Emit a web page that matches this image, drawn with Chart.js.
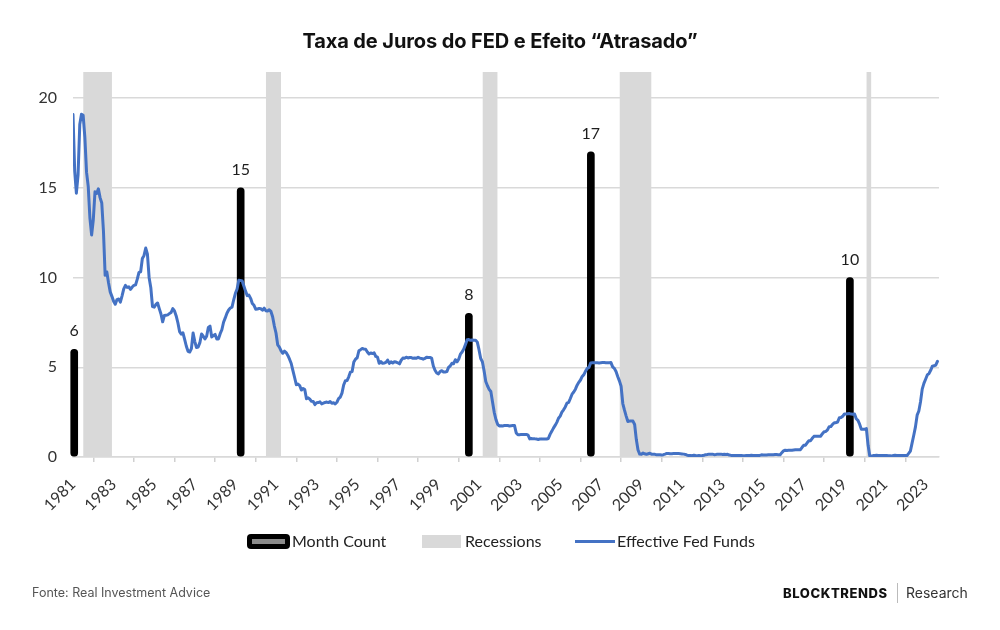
<!DOCTYPE html>
<html>
<head>
<meta charset="utf-8">
<script src="https://cdn.jsdelivr.net/npm/chart.js@4.4.1/dist/chart.umd.min.js"></script>
<style>
  html, body { margin:0; padding:0; background:#fff; }
  #wrap { position:relative; width:1000px; height:630px; overflow:hidden; background:#fff; }
  #c { position:absolute; left:0; top:0; }
  #title { position:absolute; left:0; top:29px; width:1000px; text-align:center; font-family:Inter, sans-serif; font-weight:700; font-size:20px; line-height:24px; color:#111; letter-spacing:-0.1px; }
  .leg { position:absolute; font-family:Lato, sans-serif; font-size:16px; color:#222; line-height:20px; top:531px; }
  .ico { position:absolute; }
  #src { position:absolute; left:32px; top:585px; font-family:Inter, sans-serif; font-size:12.5px; color:#555; line-height:16px; }
  #brand { position:absolute; left:783px; top:585px; font-family:Inter, sans-serif; font-size:13px; font-weight:800; color:#111; line-height:16px; letter-spacing:0.6px; }
  #sep { position:absolute; left:897px; top:583px; width:1px; height:20px; background:#bbb; }
  #research { position:absolute; left:906px; top:584px; font-family:Inter, sans-serif; font-size:14px; color:#333; line-height:18px; }
</style>
</head>
<body>
<div id="wrap">
  <canvas id="c" width="1000" height="630"></canvas>
  <div id="title">Taxa de Juros do FED e Efeito “Atrasado”</div>
  <div class="ico" style="left:247px;top:534px;width:43px;height:15px;background:#000;border-radius:4px;"></div>
  <div class="ico" style="left:252px;top:539px;width:33px;height:5px;background:#8a8a8a;"></div>
  <div class="leg" style="left:292px;">Month Count</div>
  <div class="ico" style="left:422px;top:535px;width:39px;height:13px;background:#d9d9d9;"></div>
  <div class="leg" style="left:465px;">Recessions</div>
  <div class="ico" style="left:575px;top:540px;width:40px;height:3px;background:#4472c4;"></div>
  <div class="leg" style="left:617px;">Effective Fed Funds</div>
  <div id="src">Fonte: Real Investment Advice</div>
  <div id="brand">BLOCKTRENDS</div>
  <div id="sep"></div>
  <div id="research">Research</div>
</div>
<script>
// ---- data ----
const fedStartYear = 1981; // monthly series starting Jan 1981
const fedFunds = [
  19.08,15.93,14.70,15.72,18.52,19.10,19.04,17.82,15.87,15.08,13.31,12.37,
  13.22,14.78,14.68,14.94,14.45,14.15,12.59,10.12,10.31,9.71,9.20,8.95,
  8.68,8.51,8.77,8.80,8.63,8.98,9.37,9.56,9.45,9.48,9.34,9.47,
  9.56,9.59,9.91,10.29,10.32,11.06,11.23,11.64,11.30,9.99,9.43,8.38,
  8.35,8.50,8.58,8.27,7.97,7.53,7.88,7.90,7.92,7.99,8.05,8.27,
  8.14,7.86,7.48,6.99,6.85,6.92,6.56,6.17,5.89,5.85,6.04,6.91,
  6.43,6.10,6.13,6.37,6.85,6.73,6.58,6.73,7.22,7.29,6.69,6.77,
  6.83,6.58,6.58,6.87,7.09,7.51,7.75,8.01,8.19,8.30,8.35,8.76,
  9.12,9.36,9.85,9.84,9.81,9.53,9.24,8.99,9.02,8.84,8.55,8.45,
  8.23,8.24,8.28,8.26,8.18,8.29,8.15,8.13,8.20,8.11,7.81,7.31,
  6.91,6.25,6.12,5.91,5.78,5.90,5.82,5.66,5.45,5.21,4.81,4.43,
  4.03,4.06,3.98,3.73,3.82,3.76,3.25,3.30,3.22,3.10,3.09,2.92,
  3.02,3.03,3.07,2.96,3.00,3.04,3.06,3.03,3.09,2.99,3.02,2.96,
  3.05,3.25,3.34,3.56,4.01,4.25,4.26,4.47,4.73,4.76,5.29,5.45,
  5.53,5.92,5.98,6.05,6.01,6.00,5.85,5.74,5.80,5.76,5.80,5.60,
  5.56,5.22,5.31,5.22,5.24,5.27,5.40,5.22,5.30,5.24,5.31,5.29,
  5.25,5.19,5.39,5.51,5.50,5.56,5.52,5.54,5.54,5.50,5.52,5.50,
  5.56,5.51,5.49,5.45,5.49,5.56,5.54,5.55,5.51,5.07,4.83,4.68,
  4.63,4.76,4.81,4.74,4.74,4.76,4.99,5.07,5.22,5.20,5.42,5.30,
  5.45,5.73,5.85,6.02,6.27,6.53,6.54,6.50,6.52,6.51,6.51,6.40,
  5.98,5.49,5.31,4.80,4.21,3.97,3.77,3.65,3.07,2.49,2.09,1.82,
  1.73,1.74,1.73,1.75,1.75,1.75,1.73,1.74,1.75,1.75,1.34,1.24,
  1.24,1.26,1.25,1.26,1.26,1.22,1.01,1.03,1.01,1.01,1.00,0.98,
  1.00,1.01,1.00,1.00,1.00,1.03,1.26,1.43,1.61,1.76,1.93,2.16,
  2.28,2.50,2.63,2.79,3.00,3.04,3.26,3.50,3.62,3.78,4.00,4.16,
  4.29,4.49,4.59,4.79,4.94,4.99,5.24,5.25,5.25,5.25,5.25,5.24,
  5.25,5.26,5.26,5.25,5.25,5.25,5.26,5.02,4.94,4.76,4.49,4.24,
  3.94,2.98,2.61,2.28,1.98,2.00,2.01,2.00,1.81,0.97,0.39,0.16,
  0.15,0.22,0.18,0.15,0.18,0.21,0.16,0.16,0.15,0.12,0.12,0.12,
  0.11,0.13,0.16,0.20,0.20,0.18,0.18,0.19,0.19,0.19,0.19,0.18,
  0.17,0.16,0.14,0.10,0.09,0.09,0.07,0.10,0.08,0.07,0.08,0.07,
  0.08,0.10,0.13,0.14,0.16,0.16,0.16,0.13,0.14,0.16,0.16,0.16,
  0.14,0.15,0.14,0.15,0.11,0.09,0.09,0.08,0.08,0.09,0.08,0.09,
  0.07,0.07,0.08,0.09,0.09,0.10,0.09,0.09,0.09,0.09,0.09,0.12,
  0.11,0.11,0.11,0.12,0.12,0.13,0.13,0.14,0.14,0.12,0.12,0.24,
  0.34,0.38,0.36,0.37,0.37,0.38,0.39,0.40,0.40,0.40,0.41,0.54,
  0.65,0.66,0.79,0.90,0.91,1.04,1.15,1.16,1.15,1.15,1.16,1.30,
  1.41,1.42,1.51,1.69,1.70,1.82,1.91,1.91,1.95,2.19,2.20,2.27,
  2.40,2.40,2.41,2.42,2.39,2.38,2.40,2.13,2.04,1.83,1.55,1.55,
  1.55,1.58,0.65,0.05,0.05,0.08,0.09,0.10,0.09,0.09,0.09,0.09,
  0.09,0.08,0.07,0.07,0.06,0.08,0.10,0.09,0.08,0.08,0.08,0.08,
  0.08,0.08,0.20,0.33,0.77,1.21,1.68,2.33,2.56,3.08,3.78,4.10,
  4.33,4.57,4.65,4.83,5.06,5.08,5.12,5.33
];
// Month count bars (position in decimal years, value in months)
const monthCountAt = [1981.06, 1989.26, 2000.50, 2006.51, 2019.27];
const monthCount   = [6, 15, 8, 17, 10];
// Recessions (start / end in decimal years)
const recessionStart = [1981.50, 1990.50, 2001.17, 2007.92, 2020.08];
const recessionEnd   = [1982.92, 1991.25, 2001.92, 2009.50, 2020.33];
// Axis
const xTickYears = [1981,1983,1985,1987,1989,1991,1993,1995,1997,1999,2001,2003,2005,2007,2009,2011,2013,2015,2017,2019,2021,2023];
const yTickValues = [0, 5, 10, 15, 20];
const xMin = 1981, xMax = 2023.66, yMin = 0, yMax = 21.45;

// ---- build datasets ----
const fedPoints = fedFunds.map((v, i) => ({ x: fedStartYear + i / 12, y: v }));
const barPoints = monthCountAt.map((x, i) => ({ x: x, y: monthCount[i] }));
const recessionPoints = [];
recessionStart.forEach((s, i) => {
  recessionPoints.push({ x: s, y: yMax });
  recessionPoints.push({ x: recessionEnd[i], y: yMax });
  recessionPoints.push({ x: recessionEnd[i], y: null });
});

const barLabelPlugin = {
  id: 'barLabels',
  afterDatasetsDraw(chart) {
    const meta = chart.getDatasetMeta(1);
    const ctx = chart.ctx;
    ctx.save();
    ctx.font = '16px Lato';
    ctx.fillStyle = '#1e1e1e';
    ctx.textAlign = 'center';
    ctx.textBaseline = 'alphabetic';
    meta.data.forEach((el, i) => {
      ctx.fillText(String(monthCount[i]), el.x, el.y - 13);
    });
    ctx.restore();
  }
};

function draw() {
  Chart.defaults.font.family = 'Lato';
  Chart.defaults.font.size = 16;
  Chart.defaults.color = '#333';
  new Chart(document.getElementById('c'), {
    type: 'line',
    data: {
      datasets: [
        {
          type: 'line', label: 'Effective Fed Funds', data: fedPoints,
          borderColor: '#4472c4', borderWidth: 3, pointRadius: 0, tension: 0,
          fill: false, order: 1, borderJoinStyle: 'round', borderCapStyle: 'round'
        },
        {
          type: 'bar', label: 'Month Count', data: barPoints,
          backgroundColor: '#000', barThickness: 7, borderRadius: 3.5,
          borderSkipped: false, order: 2, clip: 6
        },
        {
          type: 'line', label: 'Recessions', data: recessionPoints,
          borderColor: 'rgba(0,0,0,0)', borderWidth: 0, pointRadius: 0,
          backgroundColor: '#d9d9d9', fill: 'origin', spanGaps: false, order: 3, tension: 0
        }
      ]
    },
    options: {
      responsive: false,
      animation: false,
      events: [],
      layout: { padding: { left: 0, top: 72, right: 61, bottom: 0 } },
      plugins: { legend: { display: false }, tooltip: { enabled: false }, title: { display: false } },
      scales: {
        x: {
          type: 'linear', min: xMin, max: xMax, offset: false,
          afterBuildTicks: (axis) => { axis.ticks = xTickYears.map(v => ({ value: v })); },
          afterFit: (scale) => { scale.height = 173; },
          grid: { drawOnChartArea: false, drawTicks: true, tickLength: 5, color: '#d0d0d0', lineWidth: 1.5 },
          border: { display: true, color: '#d9d9d9', width: 1.5 },
          ticks: {
            autoSkip: false, maxRotation: 45, minRotation: 45, padding: 13,
            color: '#333', font: { size: 16, family: 'Lato' },
            callback: (v) => String(v)
          }
        },
        y: {
          type: 'linear', min: yMin, max: yMax,
          afterBuildTicks: (axis) => { axis.ticks = yTickValues.map(v => ({ value: v })); },
          afterFit: (scale) => { scale.width = 73; },
          grid: { drawTicks: false, color: '#d9d9d9', lineWidth: 1.5 },
          border: { display: false },
          ticks: { padding: 16, color: '#333', font: { size: 16, family: 'Lato' }, callback: (v) => String(v) }
        }
      }
    },
    plugins: [barLabelPlugin]
  });
}

if (document.fonts && document.fonts.load) {
  Promise.all([document.fonts.load('16px Lato'), document.fonts.load('700 20px Inter')])
    .then(draw, draw);
} else { draw(); }
</script>
</body>
</html>
